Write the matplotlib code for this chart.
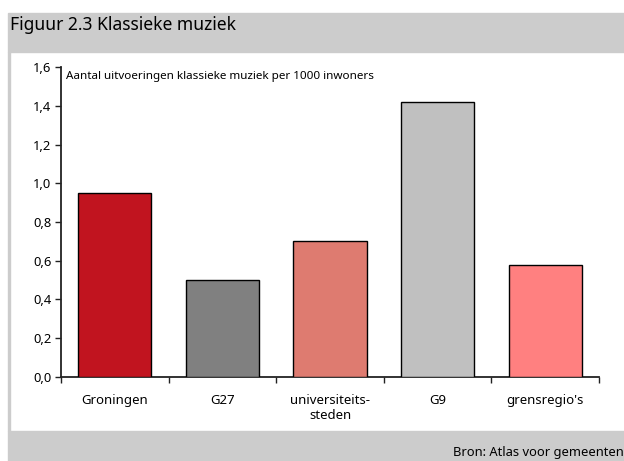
import matplotlib
matplotlib.use("Agg")
import matplotlib.pyplot as plt
from matplotlib.patches import Rectangle

plt.rcParams['font.family'] = ['Noto Sans', 'DejaVu Sans']

categories = ["Groningen", "G27", "universiteits-\nsteden", "G9", "grensregio's"]
values = [0.95, 0.50, 0.70, 1.42, 0.58]
colors = ["#C1141F", "#808080", "#DE7B70", "#C0C0C0", "#FF8080"]
yticks = [0.0, 0.2, 0.4, 0.6, 0.8, 1.0, 1.2, 1.4, 1.6]
ytick_labels = ["0,0", "0,2", "0,4", "0,6", "0,8", "1,0", "1,2", "1,4", "1,6"]

W, H = 624, 461
fig = plt.figure(figsize=(W / 100, H / 100), dpi=100)

gray = "#CCCCCC"
# header band
fig.patches.append(Rectangle((8 / W, 1 - 52.5 / H), 1 - 8 / W, 39.5 / H,
                             transform=fig.transFigure, color=gray, zorder=0))
# left border
fig.patches.append(Rectangle((8 / W, 1 - 431 / H), 2 / W, (431 - 52) / H,
                             transform=fig.transFigure, color=gray, zorder=0))
# footer band
fig.patches.append(Rectangle((8 / W, 0), 1 - 8 / W, 30.5 / H,
                             transform=fig.transFigure, color=gray, zorder=0))

fig.text(10 / W, 1 - 25.5 / H, "Figuur 2.3 Klassieke muziek", fontsize=12.6,
         va="center", ha="left", color="black")
fig.text(1.0, 1 - 452 / H, "Bron: Atlas voor gemeenten", fontsize=9.3,
         va="center", ha="right", color="black")

ax = fig.add_axes([61 / W, (H - 376.8) / H, 538 / W, 309.6 / H])
ax.set_facecolor("none")
x = [i + 0.5 for i in range(len(categories))]
ax.bar(x, values, width=0.68, color=colors, edgecolor="black", linewidth=1.0, zorder=3)

ax.set_xlim(0, len(categories))
ax.set_ylim(0, 1.6)
ax.set_yticks(yticks)
ax.set_yticklabels(ytick_labels, fontsize=9.3)
ax.set_xticks(range(len(categories) + 1))
ax.set_xticklabels([])
ax.set_xticks(x, minor=True)
ax.set_xticklabels(categories, minor=True, fontsize=9.5, va="top", linespacing=1.2)
ax.tick_params(axis="x", which="major", direction="out", length=4, width=1, color="#222222")
ax.tick_params(axis="x", which="minor", length=0, pad=12.5)
ax.tick_params(axis="y", direction="out", length=4, width=1, color="#222222", pad=3)

for s in ["top", "right"]:
    ax.spines[s].set_visible(False)
for s in ["left", "bottom"]:
    ax.spines[s].set_linewidth(1.3)
    ax.spines[s].set_color("#222222")

ax.text(66 / W, 1 - 77 / H, "Aantal uitvoeringen klassieke muziek per 1000 inwoners",
        transform=fig.transFigure, fontsize=8.4, va="center", ha="left")

fig.savefig("out.png", dpi=100, facecolor="white")
